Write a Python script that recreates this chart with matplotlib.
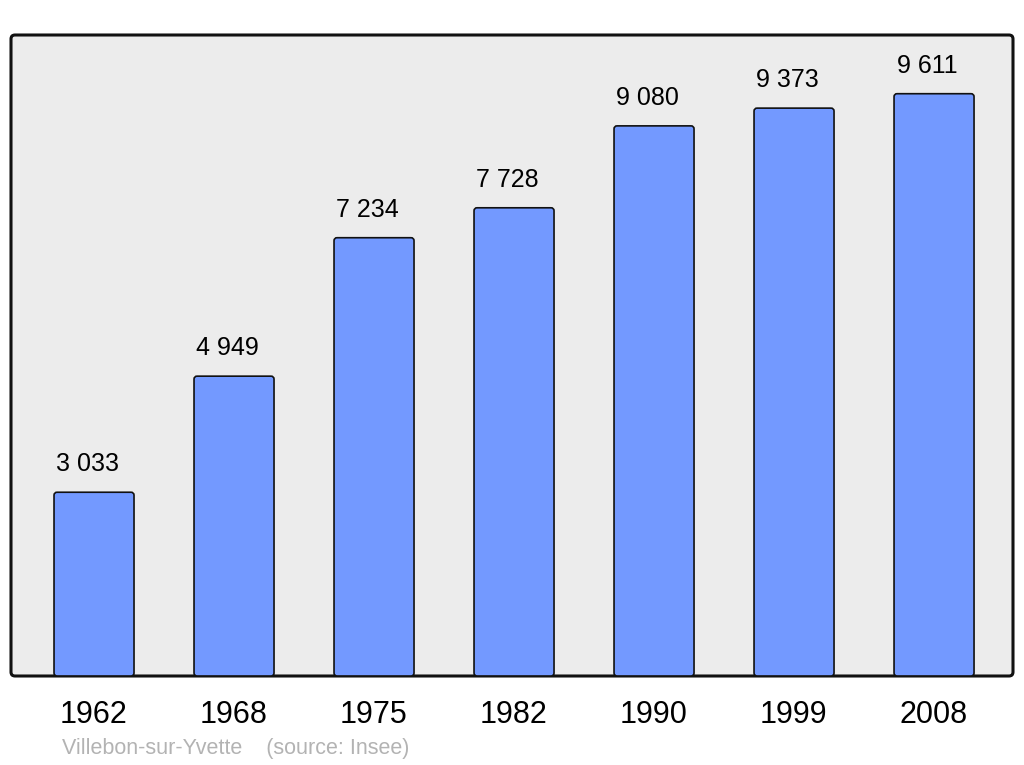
import matplotlib
matplotlib.use("Agg")
import matplotlib.pyplot as plt
from matplotlib.patches import FancyBboxPatch

# Données
annees = ["1962", "1968", "1975", "1982", "1990", "1999", "2008"]
population = [3033, 4949, 7234, 7728, 9080, 9373, 9611]
etiquettes = ["3 033", "4 949", "7 234", "7 728", "9 080", "9 373", "9 611"]
source = "Villebon-sur-Yvette    (source: Insee)"

plt.rcParams['font.family'] = ['Liberation Sans', 'DejaVu Sans']

W, H = 1024, 765
fig = plt.figure(figsize=(W / 100, H / 100), dpi=100)
ax = fig.add_axes([11 / W, (H - 676) / H, 1002 / W, 641 / H])

x0 = -0.593
x1 = 6.564
ymax = 10580
ax.set_xlim(x0, x1)
ax.set_ylim(0, ymax)
ax.axis('off')

# fond gris arrondi
fond = FancyBboxPatch((0, 0), 1, 1, boxstyle="round,pad=0,rounding_size=0.004",
                      mutation_aspect=1002 / 641, transform=ax.transAxes,
                      facecolor="#ececec", edgecolor="#111111", linewidth=2.2,
                      clip_on=False, zorder=0)
ax.add_patch(fond)

px_x = 1002 / (x1 - x0)
px_y = 641 / ymax
largeur = 80 / px_x
for i, v in enumerate(population):
    barre = FancyBboxPatch((i - largeur / 2, 0), largeur, v,
                           boxstyle="round,pad=0,rounding_size=%f" % (3 / px_x),
                           mutation_aspect=px_x / px_y,
                           facecolor="#7399ff", edgecolor="#111111", linewidth=1.2,
                           zorder=2)
    ax.add_patch(barre)
    ax.annotate(etiquettes[i], (i, v), xytext=(-4.7, 20.2), textcoords="offset points",
                ha="center", va="center", fontsize=18, color="black")
    ax.annotate(annees[i], (i, 0), xytext=(-0.6, -28), textcoords="offset points",
                ha="center", va="center", fontsize=22, color="black",
                annotation_clip=False)

fig.text(62 / W, 1 - 748.5 / H, source, ha="left", va="center",
         fontsize=15.5, color="#b3b3b3")

fig.savefig("out.png", dpi=100, facecolor="white")
